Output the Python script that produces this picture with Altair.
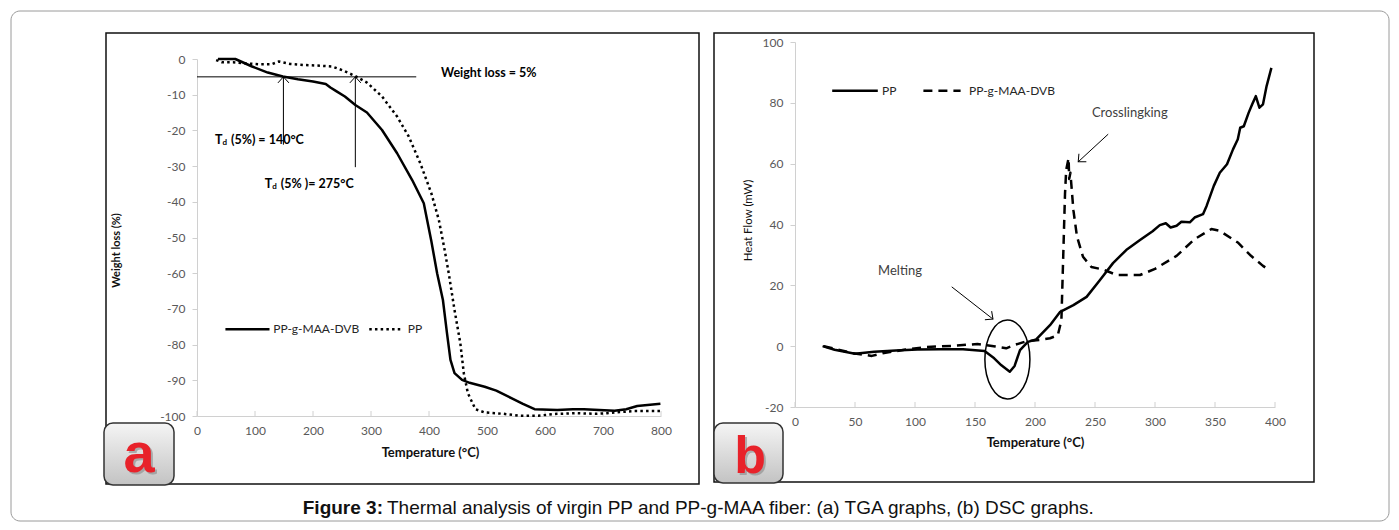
import math
import altair as alt
import pandas as pd

# ---------------- data ----------------
# (a) TGA
tga_dvb_temp = [36, 66, 95, 122, 148, 174, 200, 222, 230, 240, 255, 273, 293, 319, 345, 371, 391, 404,
                414, 424, 431, 437, 444, 457, 470, 496, 516, 542, 562, 582, 621, 648, 667, 720, 740, 759, 799]
tga_dvb_loss = [0, 0, -2.1, -3.8, -4.9, -5.7, -6.3, -7.0, -8.0, -9.0, -10.5, -12.9, -15.0, -19.9, -26.4,
                -33.9, -40.4, -51.0, -60.0, -67.5, -76.8, -84.3, -88.0, -89.9, -90.7, -91.8, -92.9, -95.0,
                -96.6, -98.1, -98.3, -98.1, -98.1, -98.5, -98.1, -97.2, -96.6]
tga_pp_temp = [33, 43, 62, 82, 108, 128, 141, 161, 187, 214, 233, 253, 273, 293, 319, 345, 365, 385, 404,
               417, 427, 434, 444, 454, 460, 467, 480, 496, 529, 556, 588, 621, 654, 687, 707, 753, 799]
tga_pp_loss = [-0.3, -0.9, -0.9, -1.2, -1.5, -1.5, -0.7, -1.4, -1.7, -1.9, -2.1, -3.3, -4.8, -6.6, -10.5,
               -16.1, -21.7, -29.2, -37.6, -45.1, -53.5, -60.0, -70.3, -79.6, -88.0, -93.6, -98.1, -99.0,
               -99.4, -99.9, -99.9, -99.4, -99.2, -99.4, -99.2, -98.6, -98.6]

# (b) DSC
dsc_pp_temp = [23, 33, 50, 66, 84, 102, 121, 140, 158, 166, 172, 179, 183, 187.5, 194, 201, 212.5, 221,
               232, 243, 254, 265, 276, 287.5, 298, 304, 309, 313, 318, 322, 329, 333, 340, 343, 349, 354,
               360, 365, 369, 371, 374, 378, 381, 384, 387, 390, 393, 397]
dsc_pp_flow = [0, -1.2, -2.5, -1.8, -1.4, -1.1, -1.0, -1.0, -1.6, -4.0, -6.3, -8.4, -6.5, -1.3, 1.4, 2.2,
               6.9, 11.3, 13.5, 16.2, 21.7, 27.3, 31.6, 34.9, 37.8, 39.8, 40.4, 39.0, 39.6, 40.9, 40.7,
               42.3, 43.4, 46.1, 52.7, 57.0, 59.8, 64.7, 68.0, 71.8, 72.3, 76.7, 79.5, 82.2, 78.4, 79.5,
               85.5, 91.5]
dsc_dvb_temp = [24, 48, 64, 73, 91, 109, 131, 152, 167, 176, 183, 192, 199, 205, 212.5, 219, 222, 223.6,
                225, 226, 228, 228.5, 229.5, 232, 235, 240, 247, 257, 268, 287.5, 300, 318, 333, 347, 354,
                369, 380, 390, 396]
dsc_dvb_flow = [0, -2.3, -3.2, -2.3, -1.2, -0.3, 0.1, 0.7, -0.1, -0.7, 0.4, 1.5, 1.9, 2.1, 2.6, 3.6, 8.5,
                30.6, 50.0, 58.0, 61.8, 55.0, 57.0, 44.7, 36.0, 29.4, 26.0, 25.2, 23.4, 23.4, 25.4, 29.7,
                35.2, 38.5, 37.9, 34.1, 29.7, 26.4, 24.8]

tga_x_ticks = [0, 100, 200, 300, 400, 500, 600, 700, 800]
tga_y_ticks = [0, -10, -20, -30, -40, -50, -60, -70, -80, -90, -100]
dsc_x_ticks = [0, 50, 100, 150, 200, 250, 300, 350, 400]
dsc_y_ticks = [-20, 0, 20, 40, 60, 80, 100]

# annotations (data units)
tga_threshold = -5
tga_threshold_end = 378
tga_onset_temp = [149, 273]
tga_onset_from = [-24, -30.3]
melting_from, melting_to = (130.6, 19.5), (165, 8.9)
cross_from, cross_to = (261, 69.7), (236, 60.6)
melt_ellipse = (177, -4.4)

# ---------------- layout (pixels) ----------------
W_PX, H_PX = 1399, 530
A_XR, A_YR = [197, 661], [416, 59]
B_XR, B_YR = [795, 1275], [407, 42]
a_kx = (A_XR[1] - A_XR[0]) / 800.0
a_ky = (A_YR[0] - A_YR[1]) / 100.0
b_kx = (B_XR[1] - B_XR[0]) / 400.0
b_ky = (B_YR[0] - B_YR[1]) / 120.0

FONT = "Lato"
INK = "black"
AXC = "#d0d0d0"
LBL = "#595959"

xa = alt.Scale(domain=[0, 800], range=A_XR, nice=False, zero=False)
ya = alt.Scale(domain=[-100, 0], range=A_YR, nice=False, zero=False)
xb = alt.Scale(domain=[0, 400], range=B_XR, nice=False, zero=False)
yb = alt.Scale(domain=[-20, 100], range=B_YR, nice=False, zero=False)

common = dict(grid=False, domainColor=AXC, domainWidth=1, labelColor=LBL, labelFont=FONT,
              labelFontSize=12, titleFont=FONT, titleColor="#111", labelFlush=False,
              labelOverlap=False,
              labelExpr="'' + datum.value", titleBaseline="middle", titleAlign="center")

ax_a_x = alt.Axis(orient="bottom", offset=-(H_PX - A_YR[0]), values=tga_x_ticks, ticks=False,
                  labelPadding=9, title="Temperature (°C)", titleFontWeight="bold", titleFontSize=13,
                  titleX=430, titleY=36, titleAngle=0, **common)
ax_a_y = alt.Axis(orient="left", offset=-A_XR[0], values=tga_y_ticks, tickSize=5, tickColor=AXC,
                  labelPadding=7, title="Weight loss (%)", titleFontWeight="bold", titleFontSize=11,
                  titleX=116 - A_XR[0], titleY=250, titleAngle=270, **common)
ax_b_x = alt.Axis(orient="bottom", offset=-(H_PX - B_YR[0]), values=dsc_x_ticks, ticks=False,
                  labelPadding=9, title="Temperature (°C)", titleFontWeight="bold", titleFontSize=13,
                  titleX=1035, titleY=35, titleAngle=0, **common)
ax_b_y = alt.Axis(orient="left", offset=-B_XR[0], values=dsc_y_ticks, tickSize=5, tickColor=AXC,
                  labelPadding=7, title="Heat Flow (mW)", titleFontWeight="normal",
                  titleFontSize=11.5, titleX=748 - B_XR[0], titleY=220, titleAngle=270, **common)

CHEVRON = "M -1 1.1 L 0 0 L 1 1.1"
ELLIPSE = "M -0.57 0 A 0.57 1 0 1 1 0.57 0 A 0.57 1 0 1 1 -0.57 0 Z"


def enc(xs, ys, xaxis=None, yaxis=None):
    return dict(x=alt.X("T:Q", scale=xs, axis=xaxis), y=alt.Y("V:Q", scale=ys, axis=yaxis))


def curve(temp, val, xs, ys, dash=None, xaxis=None, yaxis=None):
    df = pd.DataFrame({"T": temp, "V": val, "i": list(range(len(temp)))})
    mk = dict(color=INK, strokeWidth=2.5, strokeJoin="round")
    if dash:
        mk["strokeDash"] = dash
        mk["strokeCap"] = "butt"
    return alt.Chart(df).mark_line(**mk).encode(order="i:Q", **enc(xs, ys, xaxis, yaxis))


def segs(rows, xs, ys, **mk):
    df = pd.DataFrame(rows, columns=["T", "V", "T2", "V2"])
    return alt.Chart(df).mark_rule(color=INK, **mk).encode(x2="T2:Q", y2="V2:Q", **enc(xs, ys))


def heads(rows, xs, ys, size=120):
    df = pd.DataFrame(rows, columns=["T", "V", "a"])
    return alt.Chart(df).mark_point(shape=CHEVRON, filled=False, size=size, strokeWidth=1,
                                    color=INK, opacity=1).encode(
        angle=alt.Angle("a:Q", scale=None), **enc(xs, ys))


def texts(rows, xs, ys, **mk):
    df = pd.DataFrame(rows, columns=["T", "V", "s"])
    mk.setdefault("font", FONT)
    return alt.Chart(df).mark_text(**mk).encode(text="s:N", **enc(xs, ys))


def head_angle(p_from, p_to, kx, ky):
    dx = (p_to[0] - p_from[0]) * kx
    dy = -(p_to[1] - p_from[1]) * ky
    return math.degrees(math.atan2(dx, -dy)) % 360


def inward_ticks(vals, xs, ys, y0, ky):
    df = pd.DataFrame({"T": vals, "V": [y0] * len(vals), "V2": [y0 + 5 / ky] * len(vals)})
    return alt.Chart(df).mark_rule(color=AXC).encode(y2="V2:Q", **enc(xs, ys))


# ---------------- panel (a) ----------------
layers_a = [
    inward_ticks(tga_x_ticks, xa, ya, -100, a_ky),
    curve(tga_dvb_temp, tga_dvb_loss, xa, ya, xaxis=ax_a_x, yaxis=ax_a_y),
    curve(tga_pp_temp, tga_pp_loss, xa, ya, dash=[2.5, 3.2]),
    segs([(0, tga_threshold, tga_threshold_end, tga_threshold)], xa, ya, strokeWidth=1),
    segs([(t, b, t, tga_threshold) for t, b in zip(tga_onset_temp, tga_onset_from)], xa, ya,
         strokeWidth=1),
    heads([(t, tga_threshold, 0) for t in tga_onset_temp], xa, ya),
    texts([(420.7, -3.9, "Weight loss = 5%")], xa, ya, align="left", baseline="middle",
          fontSize=12.5, fontWeight="bold"),
    texts([(31, -22.7, "T"), (117, -35.0, "T")], xa, ya, align="left", baseline="middle",
          fontSize=12.5, fontWeight="bold"),
    texts([(31, -22.7, "d"), (117, -35.0, "d")], xa, ya, align="left", baseline="middle",
          fontSize=8, fontWeight="bold", dx=7.5, dy=3),
    texts([(31, -22.7, "(5%) = 140°C"), (117, -35.0, "(5% )= 275°C")], xa, ya, align="left",
          baseline="middle", fontSize=12.5, fontWeight="bold", dx=16),
    segs([(49, -75.7, 125, -75.7)], xa, ya, strokeWidth=2.5),
    segs([(297, -75.7, 353, -75.7)], xa, ya, strokeWidth=2.5, strokeDash=[2.5, 3.2]),
    texts([(131.5, -75.7, "PP-g-MAA-DVB"), (363.5, -75.7, "PP")], xa, ya, align="left",
          baseline="middle", fontSize=12, color="#262626"),
]

# ---------------- panel (b) ----------------
ellipse = alt.Chart(pd.DataFrame({"T": [melt_ellipse[0]], "V": [melt_ellipse[1]]})).mark_point(
    shape=ELLIPSE, filled=False, size=79 * 79, strokeWidth=1.5, color=INK, opacity=1).encode(
    **enc(xb, yb))

layers_b = [
    inward_ticks(dsc_x_ticks, xb, yb, -20, b_ky),
    curve(dsc_pp_temp, dsc_pp_flow, xb, yb, xaxis=ax_b_x, yaxis=ax_b_y),
    curve(dsc_dvb_temp, dsc_dvb_flow, xb, yb, dash=[9, 6]),
    ellipse,
    segs([(melting_from[0], melting_from[1], melting_to[0], melting_to[1]),
          (cross_from[0], cross_from[1], cross_to[0], cross_to[1])], xb, yb, strokeWidth=1),
    heads([(melting_to[0], melting_to[1], head_angle(melting_from, melting_to, b_kx, b_ky)),
           (cross_to[0], cross_to[1], head_angle(cross_from, cross_to, b_kx, b_ky))], xb, yb),
    texts([(87.5, 24.7, "Melting"), (279, 76.6, "Crosslingking")], xb, yb, align="center",
          baseline="middle", fontSize=13, color="#404040"),
    segs([(31, 84, 69, 84)], xb, yb, strokeWidth=2.5),
    segs([(107, 84, 138, 84)], xb, yb, strokeWidth=2.5, strokeDash=[9, 6]),
    texts([(72.5, 84, "PP"), (145, 84, "PP-g-MAA-DVB")], xb, yb, align="left",
          baseline="middle", fontSize=12, color="#262626"),
]

# ---------------- decorations (pixels) ----------------
one = pd.DataFrame({"k": [0]})


def box(x0, x1, y0, y1, **mk):
    return alt.Chart(one).mark_rect(**mk).encode(
        x=alt.value(x0), x2=alt.value(x1), y=alt.value(y0), y2=alt.value(y1))


def label(x, y, s, **mk):
    return alt.Chart(one).mark_text(**mk).encode(x=alt.value(x), y=alt.value(y), text=alt.value(s))


grad = alt.LinearGradient(gradient="linear",
                          stops=[alt.GradientStop(color="#f5f5f5", offset=0),
                                 alt.GradientStop(color="#c3c3c3", offset=1)],
                          x1=0, x2=0, y1=0, y2=1)

under = [
    box(11, 1389, 11, 521, fillOpacity=0, stroke="#9a9a9a", strokeWidth=1, cornerRadius=9),
    box(106, 699, 33, 484, fillOpacity=0, stroke="#111", strokeWidth=1.5),
    box(714, 1314, 33, 482, fillOpacity=0, stroke="#111", strokeWidth=1.5),
]

BADGE_FONT = "Liberation Sans"
over = [
    box(104, 174, 423, 485, fill=grad, stroke="#333", strokeWidth=1.5, cornerRadius=9),
    box(714, 783, 423, 483, fill=grad, stroke="#333", strokeWidth=1.5, cornerRadius=9),
    label(141, 474, "a", font=BADGE_FONT, fontSize=56, fontWeight="bold", color="#8a8a8a",
          opacity=0.6, align="center", baseline="alphabetic"),
    label(139, 472, "a", font=BADGE_FONT, fontSize=56, fontWeight="bold", color="#e8222a",
          align="center", baseline="alphabetic"),
    label(752, 475, "b", font=BADGE_FONT, fontSize=52, fontWeight="bold", color="#8a8a8a",
          opacity=0.6, align="center", baseline="alphabetic"),
    label(750, 473, "b", font=BADGE_FONT, fontSize=52, fontWeight="bold", color="#e8222a",
          align="center", baseline="alphabetic"),
    label(383, 508, "Figure 3:", font="Liberation Sans", fontSize=19, fontWeight="bold",
          color="#111", align="right", baseline="middle"),
    label(387, 508,
          "Thermal analysis of virgin PP and PP-g-MAA fiber: (a) TGA graphs, (b) DSC graphs.",
          font="Liberation Sans", fontSize=19, color="#111", align="left", baseline="middle"),
]

chart = alt.layer(*under, *layers_a, *layers_b, *over).resolve_scale(
    x="independent", y="independent"
).properties(
    width=W_PX, height=H_PX, padding=0, autosize=alt.AutoSizeParams(type="none"),
    background="white",
).configure_view(stroke=None)

chart.save("out.html", embed_options={"renderer": "svg", "actions": False})
